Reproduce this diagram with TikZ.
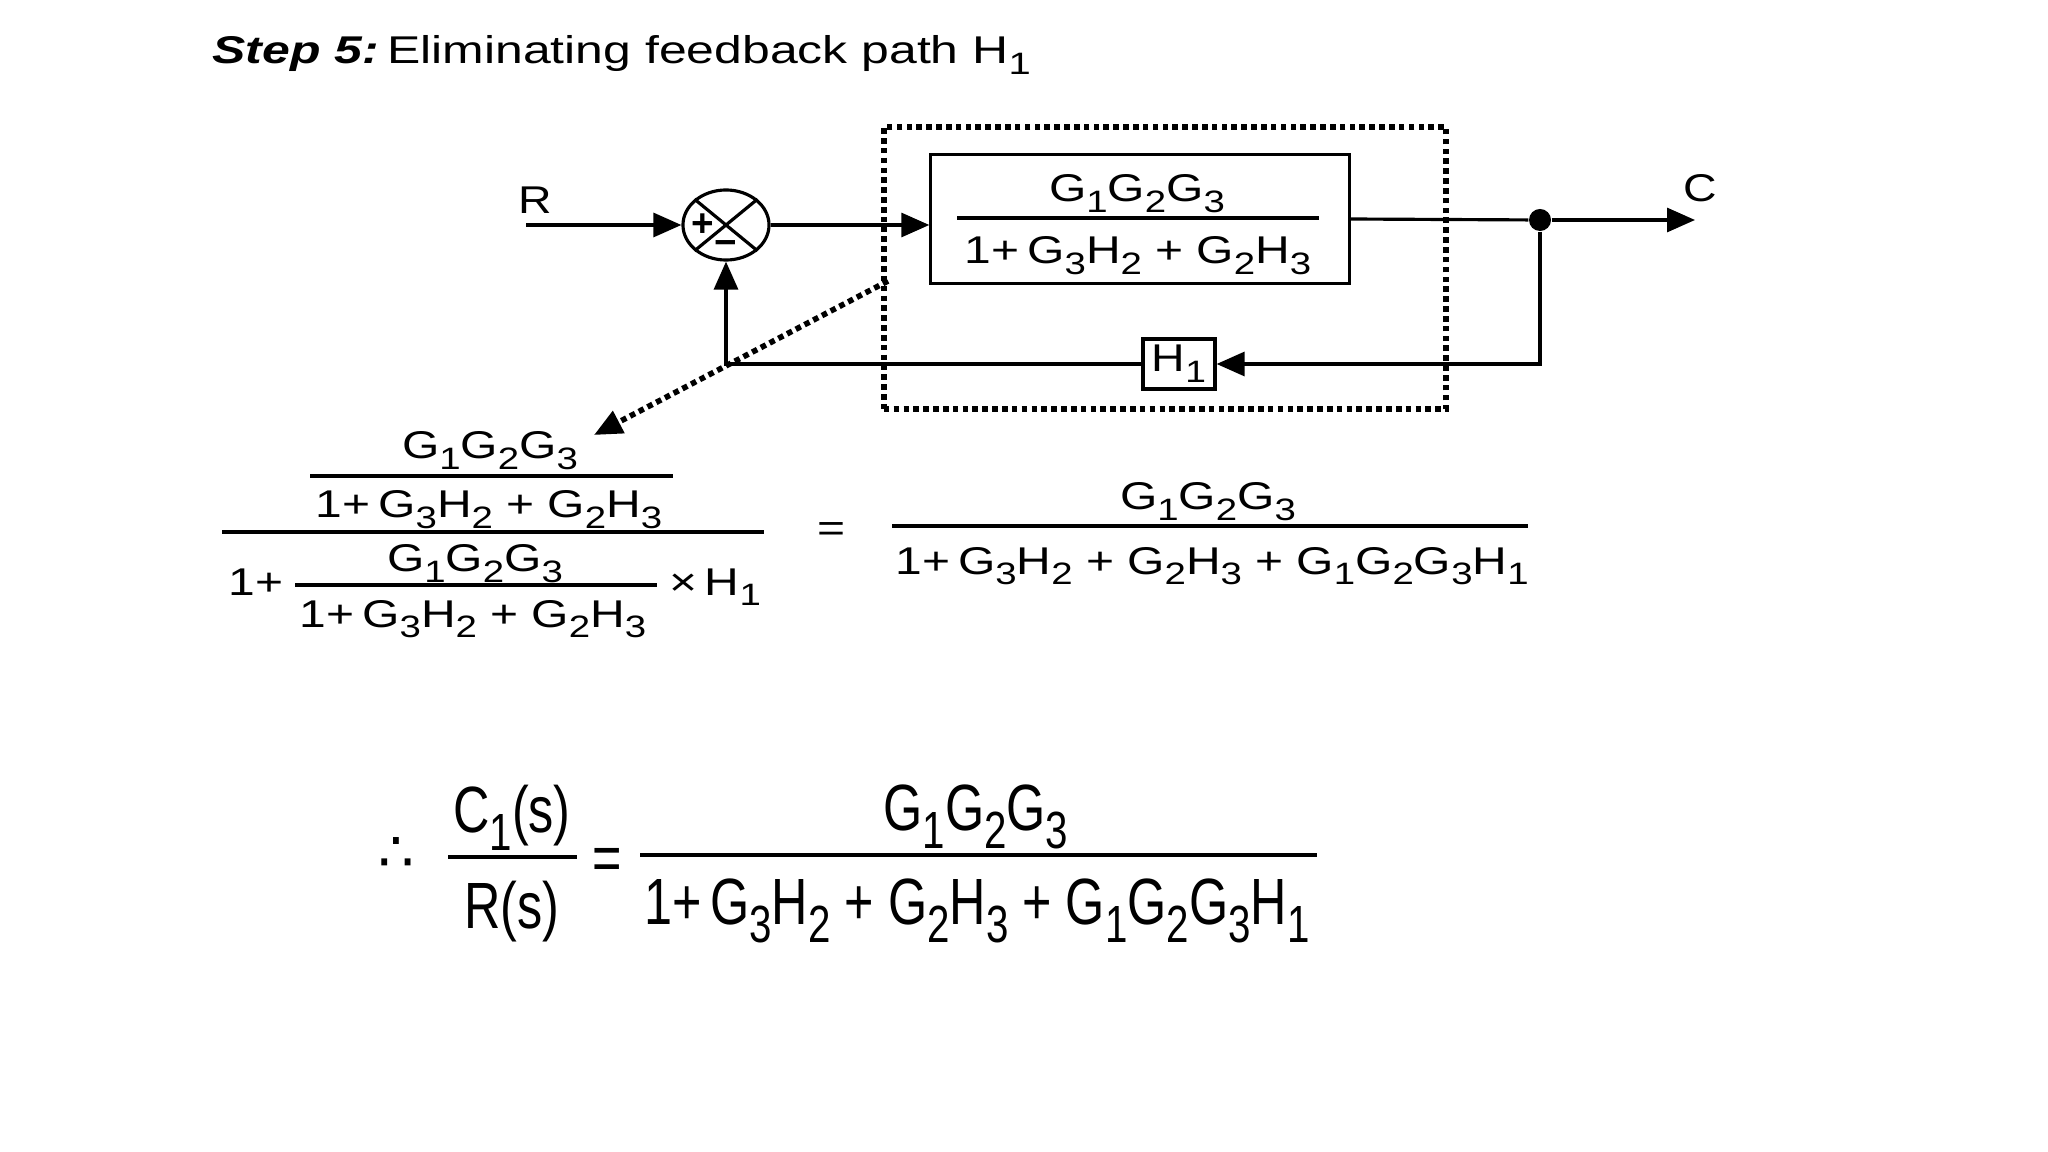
\documentclass[tikz,border=0pt]{standalone}
\usepackage{fontspec}
\setmainfont{Liberation Sans}
\newfontfamily\dejavu{DejaVu Sans}
\usepackage{graphicx}
\usetikzlibrary{arrows.meta,shapes.geometric}

\newcommand{\lo}[1]{\raisebox{-0.28em}{\scalebox{0.8}{#1}}}
\newcommand{\Gsub}[1]{G\lo{#1}}
\newcommand{\Hsub}[1]{H\lo{#1}}
\newcommand{\wideeq}[1]{\scalebox{1.24}[1]{#1}}
\newcommand{\narroweq}[1]{\scalebox{0.77}[1]{#1}}

\begin{document}
\begin{tikzpicture}[x=0.01cm, y=-0.01cm,
  wire/.style={line width=0.9pt},
  tip/.style={-{Triangle[length=0.28cm,width=0.24cm]}},
  blk/.style={draw, line width=0.9pt, inner sep=0pt},
  lbl/.style={font=\fontsize{11}{13}\selectfont, inner sep=0pt},
  sign/.style={font=\fontsize{11}{12}\selectfont\bfseries, inner sep=0pt},
  eq/.style={font=\fontsize{11}{13}\selectfont, inner sep=0pt, anchor=base},
  big/.style={font=\fontsize{18.6}{22}\selectfont, inner sep=0pt, anchor=base},
  bar/.style={line width=0.9pt},
  thickbar/.style={line width=1.3pt},
  dots/.style={line width=1.6pt, dash pattern=on 1.6pt off 1.2pt}]
\fill[white] (0,0) rectangle (2048,1152);
\useasboundingbox (0,0) rectangle (2048,1152);

% title
\node[anchor=base west, inner sep=0pt, font=\fontsize{11}{13}\selectfont] (title) at (212,64)
  {\scalebox{1.29}[1]{\textbf{\textit{Step 5:}}\,Eliminating feedback path H\lo{1}}};

% block diagram
\coordinate (rin) at (526,225);
\node[lbl] (rlab) at (535,200) {\scalebox{1.2}[1]{R}};
\node[blk, ellipse, minimum width=0.86cm, minimum height=0.70cm] (sum) at (726,225) {};
\draw[wire] (sum.north west) -- (sum.south east) (sum.north east) -- (sum.south west);
\node[sign] (plus) at (703,225) {+};
\node[sign] (minus) at (726,248) {−};
\node[blk, minimum width=4.18cm, minimum height=1.29cm] (fwd) at (1140,219) {};
\node[eq] (fnum) at (1137,202) {\wideeq{\Gsub{1}\Gsub{2}\Gsub{3}}};
\draw[bar] (957,218) -- (1319,218);
\node[eq] (fden) at (1138,264) {\wideeq{1+\,\Gsub{3}\Hsub{2} + \Gsub{2}\Hsub{3}}};
\node[circle, fill, inner sep=0pt, minimum size=0.22cm] (dot) at (1540,220) {};
\coordinate (cout) at (1695,220);
\node[lbl] (clab) at (1700,188) {\scalebox{1.2}[1]{C}};
\node[blk, lbl, minimum width=0.72cm, minimum height=0.50cm] (hone) at (1179,364) {\scalebox{1.2}[1]{H\lo{1}}};
\coordinate (fbr) at (1540,364);
\coordinate (fbl) at (726,364);

\draw[wire, tip] (rin) -- (sum.west);
\draw[wire, tip] (sum.east) -- (sum.east -| fwd.west);
\draw[wire] (fwd.east) -- (dot);
\draw[wire, tip] (dot) -- (cout);
\draw[wire, tip] (dot) -- (fbr) -- (hone.east);
\draw[wire, tip] (hone.west) -- (fbl) -- (sum.south);

% reduced loop
\node[draw, dots, minimum width=5.62cm, minimum height=2.82cm] (loop) at (1165,268) {};
\coordinate (dstart) at (888,281);
\coordinate (dend) at (594,435);
\draw[dots, tip] (dstart) -- (dend);

% first equation
\node[eq] (anum) at (490,459) {\wideeq{\Gsub{1}\Gsub{2}\Gsub{3}}};
\draw[bar] (310,476) -- (673,476);
\node[eq] (aden) at (489,518) {\wideeq{1+\,\Gsub{3}\Hsub{2} + \Gsub{2}\Hsub{3}}};
\draw[bar] (222,532) -- (764,532);
\node[eq, anchor=base west] (one) at (228,595) {\wideeq{1+}};
\node[eq] (bnum) at (475,572) {\wideeq{\Gsub{1}\Gsub{2}\Gsub{3}}};
\draw[bar] (295,585) -- (657,585);
\node[eq] (bden) at (473,627) {\wideeq{1+\,\Gsub{3}\Hsub{2} + \Gsub{2}\Hsub{3}}};
\node[eq] (times) at (715,595) {\wideeq{×\,H\lo{1}}};
\node[eq] (eqa) at (831,542) {\wideeq{=}};
\node[eq] (cnum) at (1208,510) {\wideeq{\Gsub{1}\Gsub{2}\Gsub{3}}};
\draw[bar] (892,526) -- (1528,526);
\node[eq] (cden) at (1212,574) {\wideeq{1+\,\Gsub{3}\Hsub{2} + \Gsub{2}\Hsub{3} + \Gsub{1}\Gsub{2}\Gsub{3}\Hsub{1}}};

% result
\node[inner sep=0pt, font={\dejavu\fontsize{16}{18}\selectfont}] (therefore) at (396,855) {∴};
\node[big] (cs) at (512,832) {\narroweq{C\lo{1}(s)}};
\draw[thickbar] (448,857) -- (577,857);
\node[big] (rs) at (512,928) {\narroweq{R(s)}};
\node[big] (eqb) at (607,880) {\narroweq{=}};
\node[big] (gnum) at (976,830) {\narroweq{\Gsub{1}\Gsub{2}\Gsub{3}}};
\draw[thickbar] (640,855) -- (1317,855);
\node[big] (gden) at (977,924) {\narroweq{1+\,\Gsub{3}\Hsub{2} + \Gsub{2}\Hsub{3} + \Gsub{1}\Gsub{2}\Gsub{3}\Hsub{1}}};
\end{tikzpicture}
\end{document}
